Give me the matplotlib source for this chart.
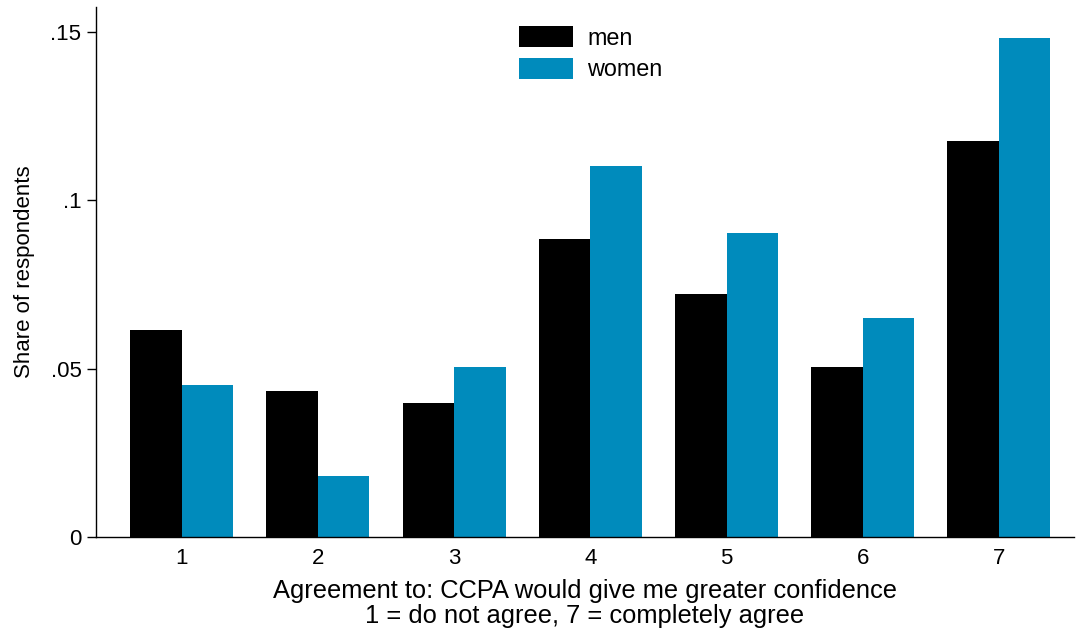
import numpy as np
import matplotlib
matplotlib.use("Agg")
import matplotlib.pyplot as plt

# agreement levels 1..7 and share of respondents by gender
categories = ["1", "2", "3", "4", "5", "6", "7"]
men = [0.0614, 0.0433, 0.0398, 0.0884, 0.0721, 0.0504, 0.1175]
women = [0.0451, 0.0181, 0.0504, 0.1101, 0.0902, 0.0650, 0.1480]
ytick_values = [0, 0.05, 0.1, 0.15]
ytick_labels = ["0", ".05", ".1", ".15"]

plt.rcParams["font.family"] = ["Liberation Sans", "DejaVu Sans"]
plt.rcParams["font.size"] = 16

fig = plt.figure(figsize=(10.76, 6.32), dpi=100)
ax = fig.add_axes([0.0892, 0.1503, 0.9088, 0.8387])

x = np.arange(1, len(categories) + 1)
w = 0.378
ax.bar(x - w / 2, men, width=w, color="black", label="men")
ax.bar(x + w / 2, women, width=w, color="#008bbc", label="women")

ax.set_xlim(0.371, 7.55)
ax.set_ylim(0, 0.1573)
ax.set_xticks(x)
ax.set_xticklabels(categories)
ax.set_yticks(ytick_values)
ax.set_yticklabels(ytick_labels)

ax.tick_params(axis="x", length=0, pad=8)
ax.tick_params(axis="y", length=6.5, width=1, pad=4)
for s in ["top", "right"]:
    ax.spines[s].set_visible(False)
for s in ["left", "bottom"]:
    ax.spines[s].set_linewidth(1)

ax.set_ylabel("Share of respondents", labelpad=11)
ax.set_xlabel("Agreement to: CCPA would give me greater confidence\n1 = do not agree, 7 = completely agree",
              fontsize=18.4, labelpad=7, linespacing=1.05)

ax.legend(loc="upper left", bbox_to_anchor=(0.433, 0.964), frameon=False, fontsize=16.8,
          borderaxespad=0, borderpad=0,
          handlelength=2.31, handleheight=1.03, handletextpad=0.6, labelspacing=0.35)

fig.savefig("out.png", dpi=100)
